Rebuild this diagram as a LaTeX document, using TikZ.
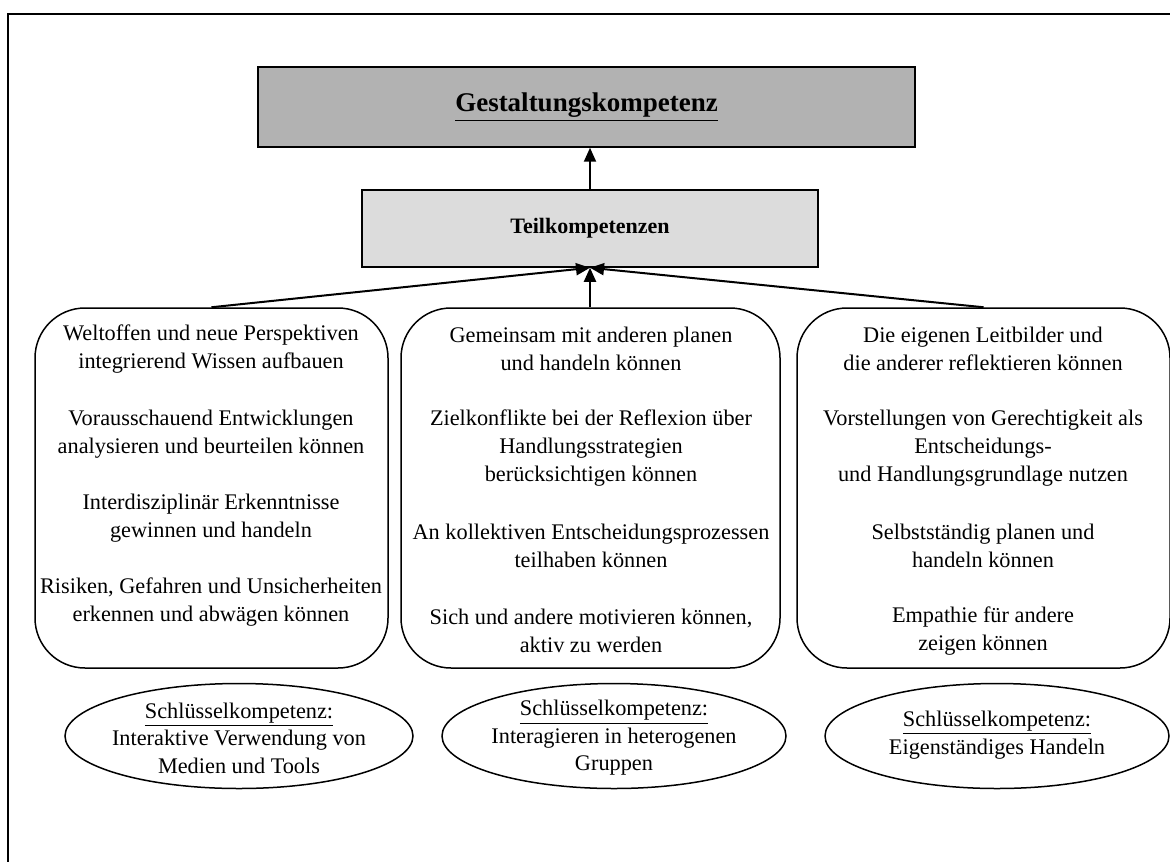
\documentclass[tikz,border=0pt]{standalone}
\usepackage{fontspec}
\setmainfont{Liberation Serif}
\usetikzlibrary{arrows.meta,shapes.geometric}
\newcommand{\myul}[3]{\leavevmode\vtop{\hbox{#3}\kern#2\hrule height #1}}
\begin{document}
\begin{tikzpicture}[x=0.5pt,y=-0.5pt,
  body/.style={align=center, font=\fontsize{11.15}{14}\selectfont, inner sep=0pt},
  elltext/.style={align=center, font=\fontsize{11.15}{13.75}\selectfont, inner sep=0pt},
  rbox/.style={draw, line width=0.75pt, rounded corners=25pt, minimum height=180pt, inner sep=0pt},
  ellbox/.style={draw, ellipse, line width=0.75pt, minimum height=52.5pt, inner sep=0pt},
  topbox/.style={draw, line width=0.75pt, inner sep=0pt},
  arr/.style={line width=1pt, -{Triangle[length=7pt,width=6pt]}}
]
\useasboundingbox (0,0) rectangle (1170,861);
\clip (0,0) rectangle (1170,861);
% frame
\draw[line width=1.1pt] (8,870) -- (8,14) -- (1180,14);
% top boxes
\node[topbox, fill={rgb,255:red,178;green,178;blue,178}, minimum width=328.5pt, minimum height=40pt,
  font=\fontsize{13.5}{16}\selectfont\bfseries] (gest) at (586.5,107) {\myul{0.9pt}{1.2pt}{Gestaltungskompetenz}};
\node[topbox, fill={rgb,255:red,220;green,220;blue,220}, minimum width=228pt, minimum height=38.5pt,
  font=\fontsize{11}{13}\selectfont\bfseries] (teil) at (590,228.5) {Teilkompetenzen};
% rounded boxes
\node[rbox, minimum width=176.5pt] (lbox) at (211.5,488) {};
\node[rbox, minimum width=189.5pt] (mbox) at (590.5,488) {};
\node[rbox, minimum width=186.5pt] (rbox) at (983.5,488) {};
% connectors
\draw[arr] (teil.north) -- (teil.north |- gest.south);
\draw[arr] (lbox.north) -- (teil.south);
\draw[arr] (mbox.north -| teil.south) -- (teil.south);
\draw[arr] (rbox.north) -- (teil.south);
% left texts
\node[body] (l1) at (211,349) {Weltoffen und neue Perspektiven\\integrierend Wissen aufbauen};
\node[body] (l2) at (211,434) {Vorausschauend Entwicklungen\\analysieren und beurteilen können};
\node[body] (l3) at (211,518) {Interdisziplinär Erkenntnisse\\gewinnen und handeln};
\node[body] (l4) at (211,602.5) {Risiken, Gefahren und Unsicherheiten\\erkennen und abwägen können};
% middle texts
\node[body] (m1) at (591,349) {Gemeinsam mit anderen planen\\und handeln können};
\node[body] (m2) at (591,448) {Zielkonflikte bei der Reflexion über\\Handlungsstrategien\\berücksichtigen können};
\node[body] (m3) at (591,546) {An kollektiven Entscheidungsprozessen\\teilhaben können};
\node[body] (m4) at (591,631) {Sich und andere motivieren können,\\aktiv zu werden};
% right texts
\node[body] (r1) at (983,349) {Die eigenen Leitbilder und\\die anderer reflektieren können};
\node[body] (r2) at (983,448) {Vorstellungen von Gerechtigkeit als\\Entscheidungs-\\und Handlungsgrundlage nutzen};
\node[body] (r3) at (983,546) {Selbstständig planen und\\handeln können};
\node[body] (r4) at (983,631) {Empathie für andere\\zeigen können};
% ellipses
\node[ellbox, minimum width=174pt] (e1) at (239,736) {};
\node[ellbox, minimum width=172pt] (e2) at (614,736) {};
\node[ellbox, minimum width=172pt] (e3) at (997,736) {};
\node[elltext] (e1t) at (239,738) {\myul{0.45pt}{1pt}{Schlüsselkompetenz:}\\Interaktive Verwendung von\\Medien und Tools};
\node[elltext] (e2t) at (614,738) {\myul{0.45pt}{1pt}{Schlüsselkompetenz:}\\Interagieren in heterogenen\\Gruppen};
\node[elltext] (e3t) at (997,735) {\myul{0.45pt}{1pt}{Schlüsselkompetenz:}\\Eigenständiges Handeln};
\end{tikzpicture}
\end{document}
